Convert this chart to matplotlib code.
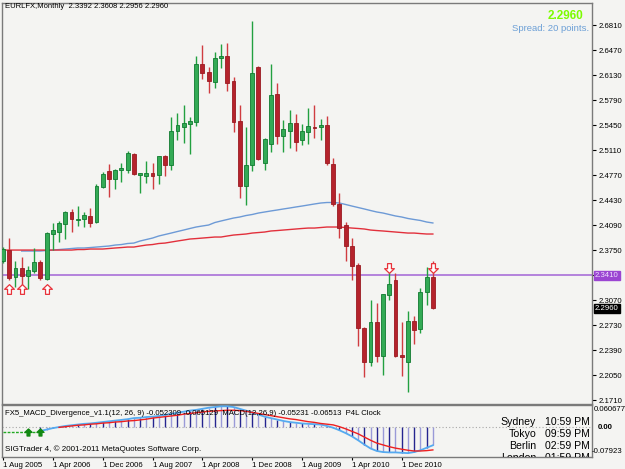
import numpy as np
import matplotlib
matplotlib.use("Agg")
import matplotlib.pyplot as plt
from matplotlib.path import Path
from matplotlib.transforms import blended_transform_factory

plt.rcParams['font.family'] = ['Liberation Sans', 'DejaVu Sans']

# ---------------- data (monthly EURLFX bars, Aug 2005 .. May 2011) ----------------
opens = [2.3604, 2.3754, 2.3387, 2.3509, 2.3400, 2.3468, 2.3591, 2.3360, 2.3971, 2.3998,
         2.4107, 2.4270, 2.4161, 2.4175, 2.4216, 2.4134, 2.4610, 2.4827, 2.4718, 2.4840,
         2.4840, 2.5057, 2.4773, 2.4759, 2.4800, 2.4773, 2.5030, 2.4908, 2.5370, 2.5425,
         2.5465, 2.5493, 2.6281, 2.6172, 2.6036, 2.6362, 2.6389, 2.6050, 2.5506, 2.4623,
         2.4908, 2.6240, 2.4935, 2.5193, 2.5872, 2.5302, 2.5370, 2.5479, 2.5248, 2.5357,
         2.5425, 2.5425, 2.5452, 2.4922, 2.4379, 2.4093, 2.3808, 2.3550, 2.2694, 2.2233,
         2.2776, 2.2314, 2.3143, 2.3346, 2.2328, 2.2233, 2.2790, 2.2681, 2.3183, 2.3392]
highs = [2.3795, 2.3917, 2.3604, 2.3659, 2.3536, 2.3781, 2.3618, 2.3998, 2.4120, 2.4147,
         2.4283, 2.4311, 2.4352, 2.4270, 2.4324, 2.4650, 2.4813, 2.4922, 2.4854, 2.4935,
         2.5098, 2.5071, 2.4800, 2.4962, 2.4935, 2.5030, 2.5044, 2.5560, 2.5615, 2.5723,
         2.5560, 2.6389, 2.6538, 2.6240, 2.6443, 2.6552, 2.6566, 2.6104, 2.5723, 2.5425,
         2.6864, 2.6253, 2.5275, 2.6281, 2.6022, 2.5520, 2.5656, 2.5601, 2.5465, 2.5683,
         2.5723, 2.5533, 2.5574, 2.5003, 2.4528, 2.4134, 2.3917, 2.3577, 2.2708, 2.3075,
         2.3034, 2.3156, 2.3482, 2.3441, 2.2776, 2.2925, 2.2857, 2.3238, 2.3523, 2.3608]
lows = [2.3577, 2.3346, 2.3251, 2.3183, 2.3224, 2.3441, 2.3346, 2.3346, 2.3754, 2.3863,
        2.3904, 2.3998, 2.4080, 2.4066, 2.4066, 2.4120, 2.4596, 2.4474, 2.4582, 2.4677,
        2.4800, 2.4773, 2.4528, 2.4664, 2.4582, 2.4650, 2.4759, 2.4840, 2.5248, 2.5207,
        2.5057, 2.5438, 2.6077, 2.5886, 2.5954, 2.6226, 2.5913, 2.5357, 2.4460, 2.4365,
        2.4827, 2.4976, 2.4840, 2.5085, 2.5193, 2.5085, 2.5139, 2.5098, 2.5180, 2.5193,
        2.5275, 2.5248, 2.4908, 2.4352, 2.3917, 2.3604, 2.3346, 2.2450, 2.2029, 2.2178,
        2.2233, 2.2056, 2.3075, 2.2301, 2.2042, 2.1825, 2.2477, 2.2626, 2.3007, 2.2956]
closes = [2.3768, 2.3373, 2.3509, 2.3400, 2.3482, 2.3591, 2.3373, 2.3985, 2.4025, 2.4120,
          2.4270, 2.4175, 2.4175, 2.4229, 2.4120, 2.4623, 2.4786, 2.4718, 2.4840, 2.4867,
          2.5071, 2.4786, 2.4800, 2.4800, 2.4759, 2.5030, 2.4908, 2.5370, 2.5452, 2.5479,
          2.5506, 2.6281, 2.6158, 2.6050, 2.6362, 2.6389, 2.6022, 2.5493, 2.4623, 2.4908,
          2.6158, 2.4990, 2.5262, 2.5859, 2.5302, 2.5397, 2.5479, 2.5221, 2.5370, 2.5438,
          2.5411, 2.5452, 2.4935, 2.4379, 2.4052, 2.3808, 2.3536, 2.2694, 2.2233, 2.2776,
          2.2314, 2.3156, 2.3292, 2.2314, 2.2301, 2.2790, 2.2667, 2.3183, 2.3392, 2.2960]

ma_blue_start = 3
ma_blue = [2.3740, 2.3740, 2.3740, 2.3740, 2.3747, 2.3753, 2.3760, 2.3767, 2.3774, 2.3781,
           2.3781, 2.3787, 2.3794, 2.3801, 2.3808, 2.3821, 2.3828, 2.3842, 2.3848, 2.3876,
           2.3896, 2.3916, 2.3944, 2.3964, 2.3984, 2.4005, 2.4025, 2.4046, 2.4066, 2.4080,
           2.4093, 2.4127, 2.4148, 2.4168, 2.4188, 2.4202, 2.4222, 2.4236, 2.4256, 2.4270,
           2.4284, 2.4297, 2.4311, 2.4324, 2.4338, 2.4351, 2.4365, 2.4379, 2.4392, 2.4399,
           2.4399, 2.4392, 2.4372, 2.4351, 2.4331, 2.4311, 2.4290, 2.4270, 2.4256, 2.4236,
           2.4216, 2.4202, 2.4182, 2.4168, 2.4155, 2.4134, 2.4121]
ma_red = [2.3753, 2.3753, 2.3753, 2.3753, 2.3753, 2.3753, 2.3753, 2.3753, 2.3753, 2.3753,
          2.3753, 2.3753, 2.3760, 2.3760, 2.3767, 2.3767, 2.3767, 2.3774, 2.3781, 2.3787,
          2.3794, 2.3794, 2.3808, 2.3821, 2.3828, 2.3842, 2.3848, 2.3862, 2.3876, 2.3889,
          2.3903, 2.3909, 2.3916, 2.3923, 2.3930, 2.3930, 2.3944, 2.3957, 2.3964, 2.3971,
          2.3984, 2.3991, 2.3998, 2.4012, 2.4018, 2.4025, 2.4032, 2.4039, 2.4046, 2.4052,
          2.4052, 2.4059, 2.4066, 2.4066, 2.4066, 2.4059, 2.4052, 2.4046, 2.4039, 2.4025,
          2.4018, 2.4012, 2.4005, 2.3998, 2.3991, 2.3984, 2.3984, 2.3977, 2.3971, 2.3971]

macd_start = 6
macd_main = [-0.012, -0.008, -0.004, -0.001, 0.002, 0.004, 0.006, 0.008, 0.009, 0.011,
             0.013, 0.015, 0.017, 0.019, 0.021, 0.024, 0.025, 0.027, 0.028, 0.030,
             0.033, 0.036, 0.039, 0.042, 0.045, 0.047, 0.050, 0.053, 0.055, 0.057,
             0.057, 0.055, 0.050, 0.045, 0.040, 0.034, 0.028, 0.024, 0.020, 0.016,
             0.013, 0.011, 0.009, 0.008, 0.007, 0.006, 0.002, -0.003, -0.010, -0.018,
             -0.027, -0.038, -0.050, -0.061, -0.068, -0.071, -0.072, -0.072, -0.073, -0.074,
             -0.071, -0.066, -0.059, -0.052]
signal_start = 9
macd_signal = [-0.002, 0.000, 0.002, 0.004, 0.005, 0.007, 0.008, 0.010, 0.011, 0.013,
               0.014, 0.016, 0.017, 0.019, 0.021, 0.024, 0.026, 0.028, 0.030, 0.032,
               0.035, 0.037, 0.039, 0.041, 0.043, 0.044, 0.045, 0.046, 0.046, 0.045,
               0.043, 0.040, 0.037, 0.034, 0.031, 0.028, 0.025, 0.022, 0.020, 0.017,
               0.014, 0.012, 0.009, 0.007, 0.005, 0.000, -0.006, -0.013, -0.020, -0.029,
               -0.038, -0.046, -0.051, -0.056, -0.060, -0.063, -0.066, -0.068, -0.068, -0.067,
               -0.065]
green_idx = [0, 1, 2, 3, 4, 5, 6]
green_vals = [-0.014, -0.014, -0.014, -0.014, -0.014, -0.014, -0.014]
green_arrow_idx = [4, 6]

date_idx = [0, 8, 16, 24, 32, 40, 48, 56, 64]
date_labels = ['1 Aug 2005', '1 Apr 2006', '1 Dec 2006', '1 Aug 2007', '1 Apr 2008',
               '1 Dec 2008', '1 Aug 2009', '1 Apr 2010', '1 Dec 2010']
price_ticks = [2.6810, 2.6470, 2.6130, 2.5790, 2.5450, 2.5110, 2.4770, 2.4430, 2.4090,
               2.3750, 2.3410, 2.3070, 2.2730, 2.2390, 2.2050, 2.1710]
up_arrow_idx = [1, 3, 7]
up_arrow_price = [2.3224, 2.3224, 2.3224]
down_arrow_idx = [62, 69]
down_arrow_price = [2.3516, 2.3516]
hline_price = 2.3410
last_price = 2.2960
macd_max, macd_min = 0.060677, -0.07923

# ---------------- figure ----------------
W, H = 625, 469
BG = '#f4f4f2'
fig = plt.figure(figsize=(W / 100, H / 100), dpi=100, facecolor=BG)

def frect(x0, y0, x1, y1):
    return [x0 / W, 1 - y1 / H, (x1 - x0) / W, (y1 - y0) / H]

def ftext(x, y, s, **kw):
    fig.text(x / W, 1 - y / H, s, **kw)

ax = fig.add_axes(frect(2, 3, 592, 404))
axs = fig.add_axes(frect(2, 405, 592, 457))
SP = 6.23
XMIN = -0.16
XMAX = XMIN + 590 / SP
for a in (ax, axs):
    a.set_facecolor(BG)
    a.set_xlim(XMIN, XMAX)
    for s in a.spines.values():
        s.set_color('#7a7a7a')
        s.set_linewidth(1.0)

ax.set_ylim(2.71496 - 404 * 0.0013583, 2.71496 - 3 * 0.0013583)

# candles
n = len(opens)
x = np.arange(n)
o = np.array(opens); h = np.array(highs); l = np.array(lows); c = np.array(closes)
up = c >= o
G_FACE, G_EDGE, G_WICK = '#33aa55', '#107a30', '#22a040'
R_FACE, R_EDGE, R_WICK = '#b5232c', '#9a1a22', '#d03c40'
ax.vlines(x[up], l[up], h[up], color=G_WICK, lw=1.0, zorder=3)
ax.vlines(x[~up], l[~up], h[~up], color=R_WICK, lw=1.0, zorder=3)
bot = np.minimum(o, c)
hgt = np.maximum(np.abs(c - o), 0.0007)
ax.bar(x[up], hgt[up], bottom=bot[up], width=0.62, color=G_FACE, edgecolor=G_EDGE,
       linewidth=0.6, zorder=4)
ax.bar(x[~up], hgt[~up], bottom=bot[~up], width=0.62, color=R_FACE, edgecolor=R_EDGE,
       linewidth=0.6, zorder=4)

# moving averages
xb = np.arange(ma_blue_start, ma_blue_start + len(ma_blue))
ax.plot(xb, ma_blue, color='#6d9ad6', lw=1.0, zorder=2)
ax.plot(np.arange(len(ma_red)), ma_red, color='#e2303c', lw=1.0, zorder=2)

# horizontal level
ax.axhline(hline_price, color='#b482dc', lw=1.4, zorder=2)

# arrows
upv = [(0, 0.5), (0.5, 0.02), (0.2, 0.02), (0.2, -0.5), (-0.2, -0.5), (-0.2, 0.02),
       (-0.5, 0.02), (0, 0.5)]
up_path = Path(upv, [Path.MOVETO] + [Path.LINETO] * 6 + [Path.CLOSEPOLY])
dn_path = Path([(vx, -vy) for vx, vy in upv], [Path.MOVETO] + [Path.LINETO] * 6 + [Path.CLOSEPOLY])
ax.plot(up_arrow_idx, up_arrow_price, linestyle='none', marker=up_path, markersize=7,
        markerfacecolor='white', markeredgecolor='#e8323a', markeredgewidth=0.9, zorder=6)
ax.plot(down_arrow_idx, down_arrow_price, linestyle='none', marker=dn_path, markersize=7,
        markerfacecolor='white', markeredgecolor='#e8323a', markeredgewidth=0.9, zorder=6)

# right price axis (the 2.3410 tick label is drawn as the purple level box instead)
ax.yaxis.tick_right()
ax.set_yticks(price_ticks)
ax.set_yticklabels(['' if abs(p - hline_price) < 1e-9 else f'{p:.4f}' for p in price_ticks])
ax.tick_params(axis='y', length=3, width=0.8, pad=2, labelsize=5.6, colors='black')
ax.set_xticks([])
bt = blended_transform_factory(ax.transAxes, ax.transData)
ax.text(1 + 3 / 590, hline_price, f'{hline_price:.4f}', transform=bt, va='center', ha='left',
        fontsize=5.6, color='#f0e0ff', clip_on=False, zorder=10,
        bbox=dict(boxstyle='square,pad=0.15', fc='#9b45d2', ec='#9b45d2'))
ax.text(1 + 3 / 590, last_price, f'{last_price:.4f}', transform=bt, va='center', ha='left',
        fontsize=5.6, color='white', clip_on=False, zorder=10,
        bbox=dict(boxstyle='square,pad=0.15', fc='black', ec='black'))

# header texts
ftext(5, 7, 'EURLFX,Monthly  %.4f %.4f %.4f %.4f' % (opens[-1], highs[-1], lows[-1], closes[-1]),
      fontsize=5.5, color='black', va='center', ha='left')
ftext(583, 16, f'{last_price:.4f}', fontsize=8.5, fontweight='bold', color='#7cfc00',
      va='center', ha='right')
ftext(589, 28.5, 'Spread: 20 points.', fontsize=6.8, color='#6c9fd6', va='center', ha='right')

# ---------------- MACD sub-window ----------------
per_px = (macd_max - macd_min) / 50.0
axs.set_ylim(macd_min - 2 * per_px, macd_max)
axs.set_yticks([])
axs.axhline(0, color='#a8a8a8', lw=0.8, ls=(0, (1, 2)), zorder=1)
xm = np.arange(macd_start, macd_start + len(macd_main))
mm = np.array(macd_main)
cols = ['#25258f' if i % 2 == 0 else '#9a9ad8' for i in xm]
axs.vlines(xm, 0, mm, colors=cols, lw=1.0, zorder=2)
axs.plot(xm, mm, color='#55aaf0', lw=1.3, zorder=3)
xsg = np.arange(signal_start, signal_start + len(macd_signal))
axs.plot(xsg, macd_signal, color='#ee2020', lw=1.0, zorder=4)
axs.plot(green_idx, green_vals, color='#22aa22', lw=1.0, ls=(0, (2, 1)), zorder=3)
axs.plot(green_arrow_idx, [green_vals[i] for i in green_arrow_idx], linestyle='none',
         marker=up_path, markersize=5, color='#118811', zorder=5)

axs.set_xticks(date_idx)
axs.set_xticklabels(date_labels)
axs.tick_params(axis='x', length=2, width=0.8, pad=1.5, labelsize=5.6, colors='black')
for lbl in axs.get_xticklabels():
    lbl.set_ha('left')

st = fig.transFigure
axs.text(5 / W, 1 - 413 / H,
         'FX5_MACD_Divergence_v1.1(12, 26, 9) -0.052309 -0.065129  MACD(12,26,9) -0.05231 -0.06513  P4L Clock',
         transform=st, fontsize=5.6, color='black', va='center', ha='left', zorder=8)
axs.text(5 / W, 1 - 449 / H, 'SIGTrader 4, \u00a9 2001-2011 MetaQuotes Software Corp.',
         transform=st, fontsize=5.8, color='black', va='center', ha='left', zorder=8)

cities = ['Sydney', 'Tokyo', 'Berlin', 'London']
times = ['10:59 PM', '09:59 PM', '02:59 PM', '01:59 PM']
rows_y = [422, 434, 446, 458]
for cty, tm, yy in zip(cities, times, rows_y):
    axs.text(536 / W, 1 - yy / H, cty, transform=st, fontsize=7.6, ha='right', va='center',
             color='black', clip_on=True, zorder=8)
    axs.text(545 / W, 1 - yy / H, tm, transform=st, fontsize=7.6, ha='left', va='center',
             color='black', clip_on=True, zorder=8)

ftext(594, 409, f'{macd_max:.6f}', fontsize=5.6, color='black', va='center', ha='left')
ftext(598, 427, '0.00', fontsize=5.6, color='black', va='center', ha='left', fontweight='bold')
ftext(592, 451, f'{macd_min:.5f}', fontsize=5.6, color='black', va='center', ha='left')

fig.savefig('out.png', dpi=100, facecolor=BG)
